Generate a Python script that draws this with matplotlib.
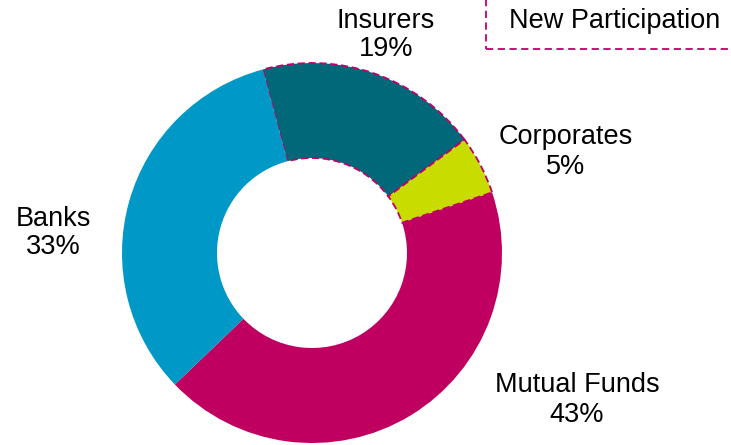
import matplotlib

matplotlib.use("Agg")
import matplotlib.pyplot as plt
from matplotlib.patches import Rectangle

plt.rcParams["font.family"] = ["Liberation Sans", "DejaVu Sans"]

# shares of participation, clockwise from the top
labels = ["Insurers", "Corporates", "Mutual Funds", "Banks"]
shares = [19, 5, 43, 33]
colors = ["#006878", "#c8dc00", "#bf0060", "#0098c6"]
new_participation = [True, True, False, False]

W, H = 731, 445
fig = plt.figure(figsize=(W / 100, H / 100), dpi=100)
ax = fig.add_axes([0, 0, 1, 1])

cx, cy, r = 312, H - 253, 190
wedges, _ = ax.pie(
    shares, colors=colors, startangle=105, counterclock=False,
    center=(cx, cy), radius=r, frame=True,
    wedgeprops=dict(width=r * 0.5, linewidth=0),
)
ax.set_xlim(0, W)
ax.set_ylim(0, H)
ax.set_aspect("equal")
ax.set_axis_off()

for w, is_new in zip(wedges, new_participation):
    if is_new:
        w.set_edgecolor("#c0006a")
        w.set_linestyle((0, (4, 2)))
        w.set_linewidth(1.3)

# label positions in pixel space (from top-left)
label_pos = {
    "Insurers": (386, 35),
    "Corporates": (566, 152),
    "Mutual Funds": (577, 400),
    "Banks": (53, 233),
}
for lab, val in zip(labels, shares):
    x, y = label_pos[lab]
    ax.text(x, H - y, f"{lab}\n{val}%", ha="center", va="center",
            fontsize=19.5, linespacing=1.15, color="black")

# legend box for new participation (partly off the canvas)
box = Rectangle((486, H - 49), 300, 100, fill=False, edgecolor="#c0006a",
                linestyle=(0, (4, 2.5)), linewidth=1.3, clip_on=False)
ax.add_patch(box)
ax.text(615, H - 21, "New Participation", ha="center", va="center",
        fontsize=19.5, color="black")

fig.savefig("out.png", dpi=100)
